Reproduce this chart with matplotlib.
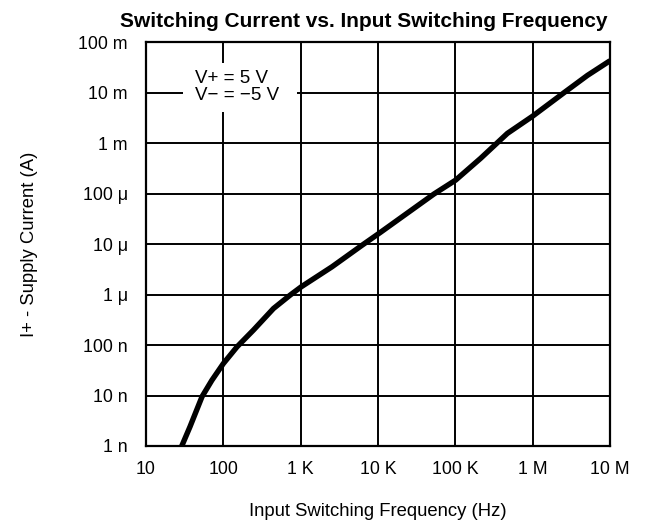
import matplotlib
matplotlib.use("Agg")
import matplotlib.pyplot as plt
from matplotlib.patches import Rectangle

plt.rcParams['font.family'] = ['Liberation Sans', 'DejaVu Sans']

# curve
freq_hz = [29, 37, 53, 71, 100, 150, 245, 445, 733, 1020, 2540, 6220,
           10700, 52700, 100700, 212000, 470000, 991000, 2.54e6,
           5.1e6, 1e7]
current_a = [1.0e-9, 2.4e-9, 9.5e-9, 2.0e-8, 4.3e-8, 9.2e-8, 1.98e-7,
             5.3e-7, 9.8e-7, 1.43e-6, 3.55e-6, 9.5e-6, 1.7e-5,
             9.8e-5, 1.85e-4, 5.0e-4, 1.56e-3, 3.4e-3, 1.0e-2, 2.2e-2, 4.3e-2]

xticks = [10, 100, 1e3, 1e4, 1e5, 1e6, 1e7]
xlabels = ["10", "100", "1 K", "10 K", "100 K", "1 M", "10 M"]
yticks = [1e-9, 1e-8, 1e-7, 1e-6, 1e-5, 1e-4, 1e-3, 1e-2, 1e-1]
ylabels = ["1 n", "10 n", "100 n", "1 \u03bc", "10 \u03bc", "100 \u03bc",
           "1 m", "10 m", "100 m"]

fig = plt.figure(figsize=(6.49, 5.21), dpi=100)
ax = fig.add_axes([0.225, 0.144, 0.715, 0.775])

ax.set_xscale('log')
ax.set_yscale('log')
ax.set_xlim(10, 1e7)
ax.set_ylim(1e-9, 1e-1)
ax.set_xticks(xticks)
ax.set_xticklabels(xlabels)
ax.set_yticks(yticks)
ax.set_yticklabels(ylabels)
ax.minorticks_off()
ax.tick_params(length=0, labelsize=12.8)
ax.tick_params(axis='x', pad=11)
ax.tick_params(axis='y', pad=13)
ax.grid(True, color='black', linewidth=1.4)
ax.set_axisbelow(True)
for s in ax.spines.values():
    s.set_linewidth(1.6)

ax.plot(freq_hz, current_a, color='black', linewidth=3.9,
        solid_capstyle='butt', solid_joinstyle='round', zorder=3)

# white patch behind the supply note, it hides the grid there
ax.add_patch(Rectangle((0.08, 0.827), 0.245, 0.121, transform=ax.transAxes,
                       facecolor='white', edgecolor='none', zorder=2.5))
ax.text(0.197, 0.889, "V+ = 5 V\nV\u2212 = \u22125 V", transform=ax.transAxes,
        ha='center', va='center', multialignment='left', fontsize=13.5,
        linespacing=1.0, zorder=4)

ax.set_title("Switching Current vs. Input Switching Frequency", x=0.47,
             fontsize=15, fontweight='bold', pad=11)
ax.set_xlabel("Input Switching Frequency (Hz)", fontsize=13.3, labelpad=18)
ax.set_ylabel("I+ - Supply Current (A)", fontsize=13.3, labelpad=29)

plt.savefig("out.png", dpi=100)
